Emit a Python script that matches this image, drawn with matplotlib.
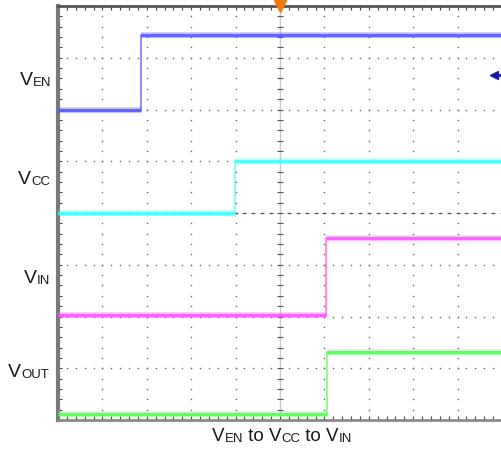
"""Scope capture: power-up sequence VEN -> VCC -> VIN, with VOUT."""

import matplotlib
matplotlib.use("Agg")
import matplotlib.pyplot as plt
import numpy as np

plt.rcParams["font.family"] = ["Liberation Sans", "DejaVu Sans"]

# trace data, in scope divisions (10 x 8 grid, y=0 at bottom)
names = ["EN", "CC", "IN", "OUT"]
colors = ["#5a5aff", "#44ffff", "#ff55ff", "#55ff55"]
low_level = [6.0, 4.0, 2.03, 0.11]
high_level = [7.44, 5.0, 3.52, 1.32]
edge_time = [1.87, 3.98, 6.04, 6.05]
label_left_px = [20, 18, 24, 8]
label_base_px = [85, 184, 283, 377]

W, H = 502, 450
fig = plt.figure(figsize=(W / 100, H / 100), dpi=100)
ax = fig.add_axes([58 / W, 30 / H, 444 / W, 414 / H])
ax.set_xlim(0, 10)
ax.set_ylim(0, 8)

# dotted graticule: one dot per minor division
minor_x = np.arange(0, 10.01, 0.2)
minor_y = np.arange(0, 8.01, 0.2)
for gy in range(1, 8):
    ax.plot(minor_x, np.full_like(minor_x, gy), ls="none", marker="s",
            ms=1.0, mec="none", mfc="#666666", zorder=1)
for gx in range(1, 10):
    ax.plot(np.full_like(minor_y, gx), minor_y, ls="none", marker="s",
            ms=1.0, mec="none", mfc="#666666", zorder=1)

# centre cross with tick marks
ax.axvline(5, color="#cccccc", lw=1.0, zorder=1)
ax.plot(np.full_like(minor_y, 5), minor_y, ls="none", marker="_", ms=5,
        mew=0.8, color="#555555", zorder=1)
ax.plot(minor_x, np.full_like(minor_x, 4), ls="none", marker="_", ms=3,
        mew=0.8, color="#555555", zorder=1)

# traces: thick fuzzy levels, thin edges
for lo, hi, t, c in zip(low_level, high_level, edge_time, colors):
    for xs, ys in (([0, t], [lo, lo]), ([t, 10], [hi, hi])):
        ax.plot(xs, ys, color=c, lw=4.2, alpha=0.3,
                solid_capstyle="butt", zorder=3)
        ax.plot(xs, ys, color=c, lw=2.4, alpha=0.9,
                solid_capstyle="butt", zorder=4)
    ax.plot([t, t], [lo, hi], color=c, lw=1.2, alpha=0.8, zorder=3)

# trigger marker and channel reference arrow
ax.plot([5], [8], marker="v", ms=8, color="#f07a14", mec="#f07a14",
        clip_on=False, zorder=6)
ax.plot([9.82, 10], [6.67, 6.67], color="#1a1aa0", lw=2, clip_on=False,
        zorder=6)
ax.plot([9.82], [6.67], marker="<", ms=6, color="#1a1aa0", clip_on=False,
        zorder=6)

# frame
ax.spines["right"].set_visible(False)
ax.spines["left"].set_color("#7a7a7a")
ax.spines["left"].set_linewidth(3)
ax.spines["top"].set_color("#555555")
ax.spines["top"].set_linewidth(2)
ax.spines["bottom"].set_color("#8a8a8a")
ax.spines["bottom"].set_linewidth(2)
ax.set_xticks(minor_x)
ax.set_yticks(minor_y)
ax.tick_params(direction="in", length=3, width=0.8, color="#444444",
               top=True, bottom=True, left=True, right=False,
               labelbottom=False, labelleft=False)


def subscripted(x_px, base_px, parts, big=14, small=9.5):
    """Draw text made of (string, is_subscript) pieces left to right."""
    last = None
    for s, sub in parts:
        size = small if sub else big
        if last is None:
            last = fig.text(x_px / W, 1 - base_px / H, s, fontsize=size,
                            ha="left", va="baseline", color="#1a1a1a")
        else:
            last = ax.annotate(s, xy=(1, 0), xycoords=last, fontsize=size,
                               ha="left", va="bottom", color="#1a1a1a",
                               annotation_clip=False)
    return last


for name, lx, by in zip(names, label_left_px, label_base_px):
    subscripted(lx, by, [("V", False), (name, True)])

subscripted(212, 441, [("V", False), ("EN", True), (" to V", False),
                       ("CC", True), (" to V", False), ("IN", True)],
            big=13.5, small=9.5)

fig.savefig("out.png", dpi=100)
